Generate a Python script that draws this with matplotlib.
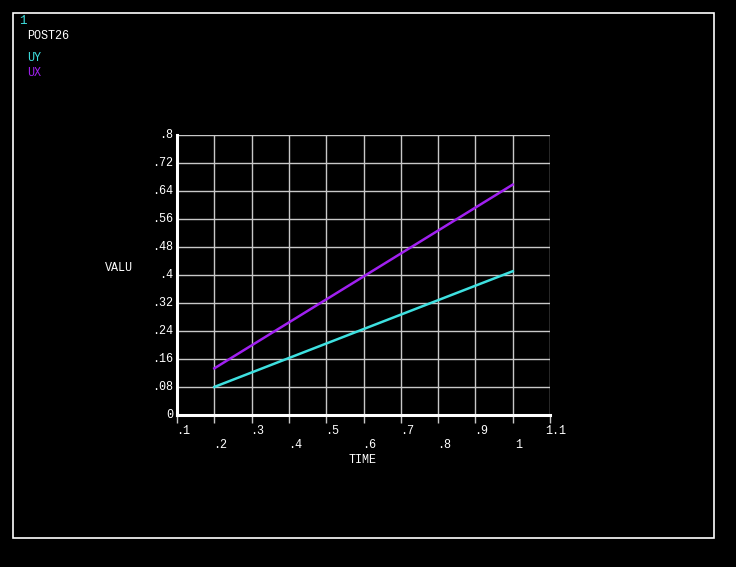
import matplotlib
matplotlib.use("Agg")
import matplotlib.pyplot as plt
from matplotlib.patches import Rectangle

# data
time = [0.2, 1.0]
uy = [0.08, 0.41]
ux = [0.133, 0.657]

xticks = [0.1, 0.2, 0.3, 0.4, 0.5, 0.6, 0.7, 0.8, 0.9, 1.0, 1.1]
xlabels = [".1", ".2", ".3", ".4", ".5", ".6", ".7", ".8", ".9", "1", "1.1"]
yticks = [0, 0.08, 0.16, 0.24, 0.32, 0.4, 0.48, 0.56, 0.64, 0.72, 0.8]
ylabels = ["0", ".08", ".16", ".24", ".32", ".4", ".48", ".56", ".64", ".72", ".8"]

CYAN = "#3ee0e0"
PURPLE = "#a020f0"
GRID = "#c8c8c8"
FONT = "Liberation Mono"

W, H = 736, 567
fig = plt.figure(figsize=(W / 100, H / 100), dpi=100, facecolor="black")

# outer frame
fig.add_artist(Rectangle((13 / W, 1 - 538 / H), 701 / W, 525 / H, transform=fig.transFigure,
                         fill=False, edgecolor="white", linewidth=1.2))

ax = fig.add_axes([177 / W, 1 - 415 / H, 373 / W, 280.5 / H], facecolor="black")
ax.set_xlim(0.1, 1.1)
ax.set_ylim(0, 0.8)

for x in xticks:
    ax.axvline(x, color=GRID, linewidth=1.0, zorder=1)
for y in yticks:
    ax.axhline(y, color=GRID, linewidth=1.0, zorder=1)

ax.plot(time, uy, color=CYAN, linewidth=1.8, zorder=3)
ax.plot(time, ux, color=PURPLE, linewidth=1.8, zorder=3)

for s in ["top", "right"]:
    ax.spines[s].set_visible(False)
for s in ["left", "bottom"]:
    ax.spines[s].set_color("white")
    ax.spines[s].set_linewidth(2.2)
    ax.spines[s].set_zorder(4)

ax.set_xticks(xticks)
ax.set_xticklabels([])
ax.set_yticks(yticks)
ax.set_yticklabels([])
ax.tick_params(axis="x", direction="out", length=5.8, width=1.0, color=GRID)
ax.tick_params(axis="y", length=0)

tf = ax.get_xaxis_transform()
for i, (x, lab) in enumerate(zip(xticks, xlabels)):
    ypos = -11.5 if i % 2 == 0 else -21.6
    ax.annotate(lab, (x, 0), xycoords=tf, xytext=(4.3, ypos), textcoords="offset points",
                color="white", fontsize=8.5, family=FONT, ha="center", va="center")
for y, lab in zip(yticks, ylabels):
    ax.annotate(lab, (0.1, y), xycoords="data", xytext=(-3, 0), textcoords="offset points",
                color="white", fontsize=8.5, family=FONT, ha="right", va="center")

fig.text(119 / W, 1 - 268 / H, "VALU", color="white", fontsize=8.5, family=FONT, ha="center", va="center")
fig.text(363 / W, 1 - 460 / H, "TIME", color="white", fontsize=8.5, family=FONT, ha="center", va="center")

fig.text(19 / W, 1 - 21 / H, "1", color=CYAN, fontsize=9, family=FONT, ha="left", va="center")
fig.text(27 / W, 1 - 36 / H, "POST26", color="white", fontsize=8.5, family=FONT, ha="left", va="center")
fig.text(27 / W, 1 - 58 / H, "UY", color=CYAN, fontsize=8.5, family=FONT, ha="left", va="center")
fig.text(27 / W, 1 - 73 / H, "UX", color=PURPLE, fontsize=8.5, family=FONT, ha="left", va="center")

fig.savefig("out.png", dpi=100, facecolor="black")
